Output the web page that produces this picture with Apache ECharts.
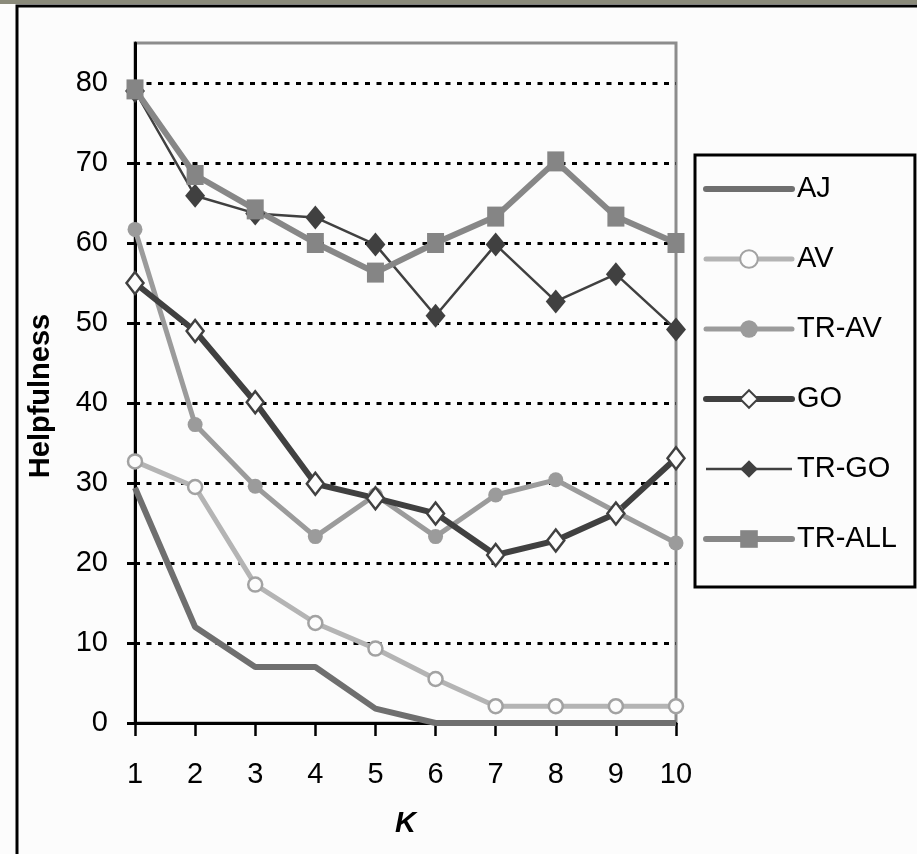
<!DOCTYPE html>
<html lang="en">
<head>
    <meta charset="utf-8"/>
    <title>Helpfulness vs K</title>
    <style>
        html, body { margin: 0; padding: 0; background: #fcfcfc; }
        #chartBox { width: 917px; height: 854px; }
    </style>
</head>
<body>

<div id="chartBox"></div>

<script src="https://cdn.jsdelivr.net/npm/echarts@6/dist/echarts.min.js"></script>
<script>

    // K values along the x axis
    var kLabels = ['1', '2', '3', '4', '5', '6', '7', '8', '9', '10'];
    // y axis ticks
    var yTicks = [0, 10, 20, 30, 40, 50, 60, 70, 80];

    // values
    var ajData    = [29.4, 12, 7, 7, 1.8, 0, 0, 0, 0, 0];
    var avData    = [32.7, 29.5, 17.3, 12.5, 9.3, 5.5, 2.1, 2.1, 2.1, 2.1];
    var travData  = [61.7, 37.3, 29.6, 23.3, 28.5, 23.3, 28.5, 30.4, 26.4, 22.5];
    var goData    = [55, 49, 40.1, 29.9, 28.1, 26.2, 21, 22.8, 26.2, 33.1];
    var trgoData  = [79, 65.9, 63.7, 63.2, 59.8, 50.9, 59.8, 52.7, 56.1, 49.2];
    var trallData = [79.2, 68.5, 64.2, 60, 56.3, 60, 63.3, 70.2, 63.3, 60];

    var fontName = '"Liberation Sans", Arial, sans-serif';

    var myChart = echarts.init(document.getElementById('chartBox'), null, {renderer: 'canvas'});

    var option = {
        backgroundColor: '#fcfcfc',
        animation: false,
        textStyle: {fontFamily: fontName},
        graphic: [
            // outer frame pieces
            {type: 'rect', shape: {x: 0, y: 0, width: 917, height: 4}, style: {fill: '#8a8a7a'}},
            {type: 'rect', shape: {x: 17, y: 6, width: 1000, height: 1000}, style: {fill: null, stroke: '#000', lineWidth: 3}}
        ],
        grid: {
            left: 135,
            right: 241,
            top: 43,
            bottom: 131,
            show: true,
            backgroundColor: 'transparent',
            borderColor: '#8c8c8c',
            borderWidth: 3
        },
        legend: {
            orient: 'vertical',
            left: 695,
            top: 155,
            padding: [19, 18, 33, 8],
            itemWidth: 86,
            itemHeight: 22,
            itemGap: 40,
            borderColor: '#000',
            borderWidth: 3,
            backgroundColor: '#fcfcfc',
            textStyle: {fontFamily: fontName, fontSize: 29, color: '#000', lineHeight: 30},
            data: [
                {name: 'AJ', lineStyle: {width: 6, cap: 'round'}, itemStyle: {opacity: 0}},
                {name: 'AV', lineStyle: {width: 5, cap: 'round'}},
                {name: 'TR-AV', lineStyle: {width: 5, cap: 'round'}},
                {name: 'GO', lineStyle: {width: 6, cap: 'round'}},
                {name: 'TR-GO', lineStyle: {width: 2.5}},
                {name: 'TR-ALL', lineStyle: {width: 6, cap: 'round'}}
            ]
        },
        xAxis: {
            type: 'category',
            boundaryGap: false,
            data: kLabels,
            name: 'K',
            nameLocation: 'middle',
            nameGap: 86,
            nameTextStyle: {fontFamily: fontName, fontSize: 29, fontWeight: 'bold', fontStyle: 'italic', color: '#000'},
            axisLine: {lineStyle: {color: '#000', width: 3}},
            axisTick: {alignWithLabel: true, length: 13, lineStyle: {color: '#000', width: 2.5}},
            axisLabel: {fontFamily: fontName, fontSize: 29, color: '#000', margin: 37},
            splitLine: {show: false}
        },
        yAxis: {
            type: 'value',
            min: 0,
            max: 85,
            name: 'Helpfulness',
            nameLocation: 'middle',
            nameGap: 80,
            nameTextStyle: {fontFamily: fontName, fontSize: 29, fontWeight: 'bold', color: '#000', padding: [0, 26, 0, 0]},
            axisLine: {show: true, lineStyle: {color: '#000', width: 3}},
            axisTick: {show: true, length: 8, customValues: yTicks, lineStyle: {color: '#000', width: 3}},
            axisLabel: {fontFamily: fontName, fontSize: 29, color: '#000', margin: 27, customValues: yTicks},
            splitLine: {show: true, lineStyle: {color: '#000', width: 3, type: [5, 6.5]}}
        },
        series: [
            {
                name: 'AJ', type: 'line', data: ajData, clip: false,
                symbol: 'none',
                lineStyle: {color: '#6f6f6f', width: 6},
                itemStyle: {color: '#6f6f6f'}
            },
            {
                name: 'AV', type: 'line', data: avData, clip: false,
                symbol: 'circle', symbolSize: 14,
                lineStyle: {color: '#b4b4b4', width: 5},
                itemStyle: {color: '#fcfcfc', borderColor: '#a2a2a2', borderWidth: 2.5}
            },
            {
                name: 'TR-AV', type: 'line', data: travData, clip: false,
                symbol: 'circle', symbolSize: 15,
                lineStyle: {color: '#9b9b9b', width: 5},
                itemStyle: {color: '#9b9b9b'}
            },
            {
                name: 'GO', type: 'line', data: goData, clip: false,
                symbol: 'diamond', symbolSize: [17, 22],
                lineStyle: {color: '#404040', width: 6},
                itemStyle: {color: '#fcfcfc', borderColor: '#404040', borderWidth: 2.5}
            },
            {
                name: 'TR-GO', type: 'line', data: trgoData, clip: false,
                symbol: 'diamond', symbolSize: [20, 24],
                lineStyle: {color: '#404040', width: 2.5},
                itemStyle: {color: '#404040'}
            },
            {
                name: 'TR-ALL', type: 'line', data: trallData, clip: false,
                symbol: 'rect', symbolSize: [17, 20],
                lineStyle: {color: '#878787', width: 6},
                itemStyle: {color: '#858585'}
            }
        ]
    };

    if (option && typeof option === "object") {
        myChart.setOption(option, true);
    }

</script>
</body>

</html>
